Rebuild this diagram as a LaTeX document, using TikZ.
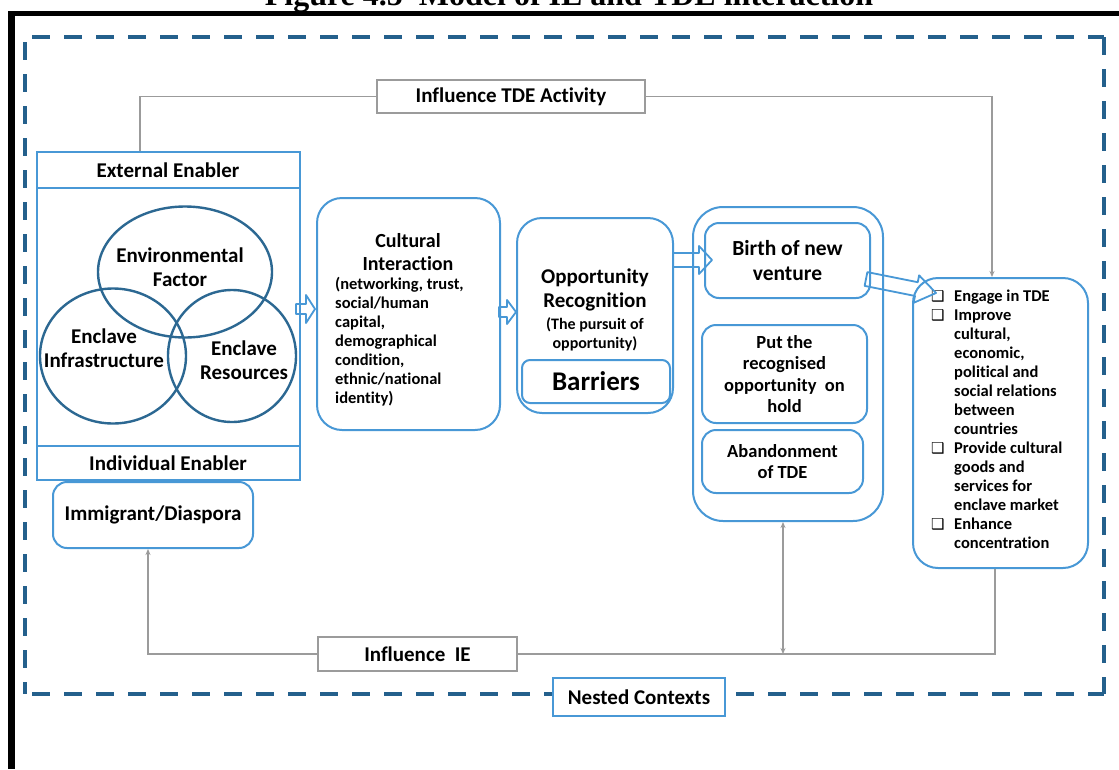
\documentclass[tikz,border=0pt]{standalone}
\usepackage{fontspec}
\setmainfont{Carlito}[Ligatures=NoCommon]
\newfontfamily\titlefont{Liberation Serif}
\newfontfamily\symfont{DejaVu Sans}
\usetikzlibrary{calc,arrows.meta,shapes.geometric}

\definecolor{boxblue}{RGB}{72,152,214}
\definecolor{ringblue}{RGB}{44,104,146}
\definecolor{dashblue}{RGB}{36,96,140}
\definecolor{linkgray}{RGB}{155,155,155}

\tikzset{
  box/.style={draw=boxblue, line width=2pt, fill=white, inner sep=0pt},
  rbox/.style={box, rounded corners=22pt},
  ring/.style={draw=ringblue, line width=2.4pt, ellipse, inner sep=0pt},
  labelbox/.style={draw=linkgray, line width=2pt, fill=white, inner sep=0pt},
  link/.style={draw=linkgray, line width=1.8pt},
  tipend/.style={-{Stealth[length=6pt,width=5pt]}},
  arrowline/.style={draw=boxblue, line width=1.8pt, line join=round},
  txt/.style={font=\bfseries\fontsize{21}{24}\selectfont, align=center, inner sep=0pt},
  listtxt/.style={font=\bfseries\fontsize{16.5}{19}\selectfont, align=left, inner sep=0pt},
}

% hollow block arrow: tail, tip, body half-width, head half-width, head length
\newcommand\fatarrow[5]{%
  \coordinate (fa-h) at ($(#2)!#5!(#1)$);
  \draw[arrowline]
    ($(#1)!#3!90:(#2)$) -- ($(fa-h)!#3!90:(#2)$) -- ($(fa-h)!#4!90:(#2)$)
    -- (#2) -- ($(fa-h)!#4!-90:(#2)$) -- ($(fa-h)!#3!-90:(#2)$)
    -- ($(#1)!#3!-90:(#2)$) -- cycle;}

\newcommand\cbx{\makebox[23pt][l]{\symfont\fontsize{15}{15}\selectfont ❑}}
\newcommand\cin{\hspace*{23pt}}

\begin{document}
\begin{tikzpicture}[x=1pt,y=-1pt]
\clip (0,0) rectangle (1119,769);
\fill[white] (0,0) rectangle (1119,769);

% caption, cut by the top edge
\node[font=\titlefont\bfseries\fontsize{32}{36}\selectfont, anchor=base, inner sep=0pt] (caption) at (569,5.5) {Figure 4.5\enspace Model of IE and TDE interaction};

% black frame
\fill[black] (8,11) rectangle (1119,16);
\fill[black] (8,11) rectangle (15,769);

% nested contexts frame
\draw[dashblue, line width=4pt, dash pattern=on 18pt off 14pt] (32,37) -- (1104,37);
\draw[dashblue, line width=4pt, dash pattern=on 18pt off 14pt] (1104,37) -- (1104,694);
\draw[dashblue, line width=4pt, dash pattern=on 18pt off 14pt] (32,694) -- (1104,694);
\draw[dashblue, line width=4pt, dash pattern=on 18pt off 14pt] (25,42) -- (25,694);

% enablers
\node[box, txt, minimum width=263pt, minimum height=36pt] (ext) at (168,170) {External Enabler};
\node[box, minimum width=263pt, minimum height=259pt] (venn) at (168,317.5) {};
\node[box, txt, minimum width=263pt, minimum height=34pt] (ind) at (168,463) {Individual Enabler};

\node[ring, minimum width=174pt, minimum height=131pt] (envf) at (185,272) {};
\node[ring, minimum width=146pt, minimum height=135pt] (infra) at (113,356) {};
\node[ring, minimum width=128pt, minimum height=132pt] (res) at (232,356) {};
\node[txt] (envt) at (180,267) {Environmental\\Factor};
\node[txt] (infrat) at (104,348) {Enclave\\Infrastructure};
\node[txt] (rest) at (244,360) {Enclave\\Resources};

\node[rbox, txt, rounded corners=14pt, minimum width=200pt, minimum height=66pt] (immig) at (153,515) {Immigrant/Diaspora};

% cultural interaction
\node[rbox, rounded corners=25pt, minimum width=183pt, minimum height=232pt] (cult) at (408.5,314) {};
\node[txt, font=\bfseries\fontsize{20}{23}\selectfont] (cultt) at (408,252) {Cultural\\Interaction};
\node[listtxt, anchor=north west] (cultl) at (335,277) {(networking, trust,\\social/human\\capital,\\demographical\\condition,\\ethnic/national\\identity)};

% opportunity recognition
\node[rbox, rounded corners=25pt, minimum width=156pt, minimum height=195pt] (opp) at (595,315.5) {};
\node[txt] (oppt) at (595,290) {Opportunity\\Recognition};
\node[txt, font=\bfseries\fontsize{16}{19}\selectfont] (pursuit) at (595,334) {(The pursuit of\\opportunity)};
\node[rbox, txt, rounded corners=8pt, font=\bfseries\fontsize{27}{30}\selectfont, minimum width=148pt, minimum height=43pt] (barr) at (596,381.5) {Barriers};

% venture outcomes
\node[rbox, rounded corners=30pt, minimum width=190pt, minimum height=314pt] (group) at (788,364) {};
\node[rbox, txt, rounded corners=14pt, font=\bfseries\fontsize{21.5}{25}\selectfont, minimum width=165pt, minimum height=75pt] (birth) at (787.5,260.5) {Birth of new\\venture};
\node[rbox, txt, rounded corners=14pt, font=\bfseries\fontsize{18.5}{21.5}\selectfont, minimum width=165pt, minimum height=98pt] (hold) at (784.5,374) {Put the\\recognised\\opportunity\ \ on\\hold};
\node[rbox, txt, rounded corners=14pt, font=\bfseries\fontsize{18.5}{21.5}\selectfont, minimum width=161pt, minimum height=63pt] (aband) at (782.5,461.5) {Abandonment\\of TDE};

% results
\node[rbox, rounded corners=25pt, minimum width=175pt, minimum height=290pt] (outcome) at (1000.5,423) {};
\node[listtxt, anchor=north west] (outl) at (931,290) {\cbx Engage in TDE\\\cbx Improve\\\cin cultural,\\\cin economic,\\\cin political and\\\cin social relations\\\cin between\\\cin countries\\\cbx Provide cultural\\\cin goods and\\\cin services for\\\cin enclave market\\\cbx Enhance\\\cin concentration};

% feedback labels
\node[labelbox, txt, minimum width=268pt, minimum height=33pt] (tdeact) at (511,96.5) {Influence TDE Activity};
\node[labelbox, txt, minimum width=199pt, minimum height=34pt] (ieinf) at (417.5,654) {Influence\ \ IE};

% block arrows of the main flow
\coordinate (a1s) at (296,309); \coordinate (a1e) at (315,309);
\coordinate (a2s) at (499,312); \coordinate (a2e) at (516,312);
\coordinate (a3s) at (673,260); \coordinate (a3e) at (712,260);
\coordinate (a4s) at (866,279); \coordinate (a4e) at (936,293);
\fatarrow{a1s}{a1e}{5pt}{14pt}{9pt}
\fatarrow{a2s}{a2e}{5pt}{12pt}{9pt}
\fatarrow{a3s}{a3e}{7pt}{14pt}{13pt}
\fatarrow{a4s}{a4e}{7pt}{14pt}{20pt}

% feedback loops
\coordinate (c1) at (140,96.5);
\coordinate (c2) at (992,96.5);
\coordinate (c3) at (148,654);
\coordinate (c4) at (995,654);
\coordinate (c5) at (783,654);
\draw[link] (ext.north -| c1) -- (c1) -- (tdeact.west);
\draw[link, tipend] (tdeact.east) -- (c2) -- (outcome.north -| c2);
\draw[link, tipend] (ieinf.west) -- (c3) -- (immig.south -| c3);
\draw[link] (ieinf.east) -- (c4) -- (outcome.south -| c4);
\draw[link, {Stealth[length=6pt,width=5pt]}-{Stealth[length=6pt,width=5pt]}] (group.south -| c5) -- (c5);

\node[box, txt, minimum width=172pt, minimum height=38pt] (nested) at (639,697) {Nested Contexts};
\end{tikzpicture}
\end{document}
